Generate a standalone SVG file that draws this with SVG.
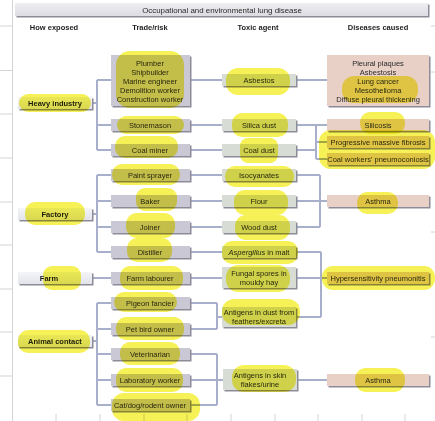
<svg xmlns="http://www.w3.org/2000/svg" width="435" height="421" viewBox="0 0 435 421">
<defs>
<linearGradient id="gExp" x1="0" y1="0" x2="0" y2="1"><stop offset="0" stop-color="#f4f5f8"/><stop offset="1" stop-color="#e2e4ea"/></linearGradient>
<linearGradient id="gTitle" x1="0" y1="0" x2="0" y2="1"><stop offset="0" stop-color="#eeeef2"/><stop offset="1" stop-color="#dcdce2"/></linearGradient>
</defs>
<style>
text{font-family:"Liberation Sans",Arial,sans-serif;font-size:7.5px;fill:#2a2a2a;text-anchor:middle}
.b{font-weight:bold;fill:#1e1e1e}
.t{font-size:7.9px}
.sh{fill:#8c8c98}
.exp{fill:url(#gExp)}
.trd{fill:#cbc8d6}
.tox{fill:#d7ddd4}
.dis{fill:#e8d0c7}
.conn path{fill:none;stroke:#a8afcb;stroke-width:2}
.grid line{stroke:#d4d4d8;stroke-width:1}
.hl rect{fill:#f3ee2c;opacity:0.8;mix-blend-mode:multiply}
</style>
<rect width="435" height="421" fill="#ffffff"/>
<g class="grid">
<line x1="12.5" y1="0" x2="12.5" y2="421"/>
<line x1="0" y1="26" x2="12" y2="26"/><line x1="0" y1="70.5" x2="12" y2="70.5"/><line x1="0" y1="114" x2="12" y2="114"/><line x1="0" y1="158" x2="12" y2="158"/><line x1="0" y1="202" x2="12" y2="202"/><line x1="0" y1="245" x2="12" y2="245"/><line x1="0" y1="289" x2="12" y2="289"/><line x1="0" y1="332" x2="12" y2="332"/><line x1="0" y1="376" x2="12" y2="376"/>
<line x1="431" y1="26" x2="435" y2="26"/><line x1="431" y1="72" x2="435" y2="72"/><line x1="431" y1="232" x2="435" y2="232"/><line x1="431" y1="337" x2="435" y2="337"/>
<line x1="56" y1="414" x2="56" y2="421"/><line x1="100" y1="414" x2="100" y2="421"/><line x1="144" y1="414" x2="144" y2="421"/><line x1="187" y1="414" x2="187" y2="421"/><line x1="231" y1="414" x2="231" y2="421"/><line x1="275" y1="414" x2="275" y2="421"/><line x1="318" y1="414" x2="318" y2="421"/><line x1="362" y1="414" x2="362" y2="421"/><line x1="405" y1="414" x2="405" y2="421"/>
</g>
<g id="title">
<rect class="sh" x="16.5" y="4.5" width="413" height="13"/>
<rect x="15" y="3" width="413" height="13" fill="url(#gTitle)"/>
<text class="t" x="222" y="12.7">Occupational and environmental lung disease</text>
</g>
<g id="headers">
<text class="b" x="54" y="29.5">How exposed</text>
<text class="b" x="150" y="29.5">Trade/risk</text>
<text class="b" x="258" y="29.5">Toxic agent</text>
<text class="b" x="378" y="29.5">Diseases caused</text>
</g>
<g class="conn">
<path d="M92,103H97M97,80V150M97,80H111M97,125H111M97,150H111"/>
<path d="M92,214H97M97,175V252M97,175H111M97,201H111M97,227H111M97,252H111"/>
<path d="M92,278H111"/>
<path d="M92,341H97M97,303V405M97,303H111M97,329H111M97,354H111M97,380H111M97,405H111"/>
<path d="M190,80H222M190,125H222M190,150H222M190,175H222M190,201H222M190,227H222M190,252H222M190,278H222"/>
<path d="M190,303H217M190,329H217M217,303V329M217,317H222"/>
<path d="M190,354H217M190,380H217M190,405H217M217,354V405M217,380H223"/>
<path d="M296,80H327M296,125H327M296,150H316M316,125V159M316,142H327M316,159H327"/>
<path d="M296,175H320M296,201H327M296,227H320M320,175V227"/>
<path d="M296,252H321M296,278H327M296,317H321M321,252V317"/>
<path d="M297,380H327"/>
</g>
<g id="exp-heavy"><rect class="sh" x="19.5" y="98.5" width="74" height="12"/><rect class="exp" x="18" y="97" width="74" height="12"/><text class="b" x="55" y="105.7">Heavy industry</text></g>
<g id="exp-factory"><rect class="sh" x="19.5" y="209.5" width="74" height="12"/><rect class="exp" x="18" y="208" width="74" height="12"/><text class="b" x="55" y="216.7">Factory</text></g>
<g id="exp-farm"><rect class="sh" x="19.5" y="273.5" width="74" height="12"/><rect class="exp" x="18" y="272" width="74" height="12"/><text class="b" x="49" y="280.7">Farm</text></g>
<g id="exp-animal"><rect class="sh" x="19.5" y="336.5" width="74" height="12"/><rect class="exp" x="18" y="335" width="74" height="12"/><text class="b" x="55" y="343.7">Animal contact</text></g>

<g id="trade-asbestos"><rect class="sh" x="112.5" y="56.5" width="79" height="51"/><rect class="trd" x="111" y="55" width="79" height="51"/>
<text x="150" y="65.7">Plumber</text><text x="150" y="74.7">Shipbuilder</text><text x="150" y="83.7">Marine engineer</text><text x="150" y="92.7">Demolition worker</text><text x="150" y="101.7">Construction worker</text></g>
<g id="trade-stonemason"><rect class="sh" x="112.5" y="120.5" width="79" height="12"/><rect class="trd" x="111" y="119" width="79" height="12"/><text x="150" y="127.7">Stonemason</text></g>
<g id="trade-coalminer"><rect class="sh" x="112.5" y="145.5" width="79" height="12"/><rect class="trd" x="111" y="144" width="79" height="12"/><text x="150" y="152.7">Coal miner</text></g>
<g id="trade-paint"><rect class="sh" x="112.5" y="170.5" width="79" height="12"/><rect class="trd" x="111" y="169" width="79" height="12"/><text x="150" y="177.7">Paint sprayer</text></g>
<g id="trade-baker"><rect class="sh" x="112.5" y="196.5" width="79" height="12"/><rect class="trd" x="111" y="195" width="79" height="12"/><text x="150" y="203.7">Baker</text></g>
<g id="trade-joiner"><rect class="sh" x="112.5" y="222.5" width="79" height="12"/><rect class="trd" x="111" y="221" width="79" height="12"/><text x="150" y="229.7">Joiner</text></g>
<g id="trade-distiller"><rect class="sh" x="112.5" y="247.5" width="79" height="12"/><rect class="trd" x="111" y="246" width="79" height="12"/><text x="150" y="254.7">Distiller</text></g>
<g id="trade-farmlab"><rect class="sh" x="112.5" y="273.5" width="79" height="12"/><rect class="trd" x="111" y="272" width="79" height="12"/><text x="150" y="280.7">Farm labourer</text></g>
<g id="trade-pigeon"><rect class="sh" x="112.5" y="298.5" width="79" height="12"/><rect class="trd" x="111" y="297" width="79" height="12"/><text x="150" y="305.7">Pigeon fancier</text></g>
<g id="trade-petbird"><rect class="sh" x="112.5" y="324.5" width="79" height="12"/><rect class="trd" x="111" y="323" width="79" height="12"/><text x="150" y="331.7">Pet bird owner</text></g>
<g id="trade-vet"><rect class="sh" x="112.5" y="349.5" width="79" height="12"/><rect class="trd" x="111" y="348" width="79" height="12"/><text x="150" y="356.7">Veterinarian</text></g>
<g id="trade-lab"><rect class="sh" x="112.5" y="375.5" width="79" height="12"/><rect class="trd" x="111" y="374" width="79" height="12"/><text x="150" y="382.7">Laboratory worker</text></g>
<g id="trade-pet"><rect class="sh" x="112.5" y="400.5" width="79" height="12"/><rect class="trd" x="111" y="399" width="79" height="12"/><text x="150" y="407.7">Cat/dog/rodent owner</text></g>

<g id="tox-asbestos"><rect class="sh" x="223.5" y="75.5" width="74" height="12"/><rect class="tox" x="222" y="74" width="74" height="12"/><text x="259" y="82.7">Asbestos</text></g>
<g id="tox-silica"><rect class="sh" x="223.5" y="120.5" width="74" height="12"/><rect class="tox" x="222" y="119" width="74" height="12"/><text x="259" y="127.7">Silica dust</text></g>
<g id="tox-coal"><rect class="sh" x="223.5" y="145.5" width="74" height="12"/><rect class="tox" x="222" y="144" width="74" height="12"/><text x="259" y="152.7">Coal dust</text></g>
<g id="tox-iso"><rect class="sh" x="223.5" y="170.5" width="74" height="12"/><rect class="tox" x="222" y="169" width="74" height="12"/><text x="259" y="177.7">Isocyanates</text></g>
<g id="tox-flour"><rect class="sh" x="223.5" y="196.5" width="74" height="12"/><rect class="tox" x="222" y="195" width="74" height="12"/><text x="259" y="203.7">Flour</text></g>
<g id="tox-wood"><rect class="sh" x="223.5" y="222.5" width="74" height="12"/><rect class="tox" x="222" y="221" width="74" height="12"/><text x="259" y="229.7">Wood dust</text></g>
<g id="tox-asperg"><rect class="sh" x="223.5" y="247.5" width="74" height="12"/><rect class="tox" x="222" y="246" width="74" height="12"/><text x="259" y="254.7"><tspan font-style="italic">Aspergillus</tspan> in malt</text></g>
<g id="tox-fungal"><rect class="sh" x="223.5" y="268.5" width="74" height="21"/><rect class="tox" x="222" y="267" width="74" height="21"/><text x="259" y="275.7">Fungal spores in</text><text x="259" y="284.5">mouldy hay</text></g>
<g id="tox-feathers"><rect class="sh" x="223.5" y="308.5" width="74" height="20"/><rect class="tox" x="222" y="307" width="74" height="20"/><text x="259" y="315.3">Antigens in dust from</text><text x="259" y="324.1">feathers/excreta</text></g>
<g id="tox-skin"><rect class="sh" x="224.5" y="370.5" width="74" height="21"/><rect class="tox" x="223" y="369" width="74" height="21"/><text x="260" y="377.7">Antigens in skin</text><text x="260" y="386.5">flakes/urine</text></g>

<g id="dis-asbestos"><rect class="sh" x="328.5" y="56.5" width="102" height="51"/><rect class="dis" x="327" y="55" width="102" height="51"/>
<text x="378" y="65.7">Pleural plaques</text><text x="378" y="74.7">Asbestosis</text><text x="378" y="83.7">Lung cancer</text><text x="378" y="92.7">Mesothelioma</text><text x="378" y="101.7">Diffuse pleural thickening</text></g>
<g id="dis-silicosis"><rect class="sh" x="328.5" y="120.5" width="102" height="12"/><rect class="dis" x="327" y="119" width="102" height="12"/><text x="378" y="127.7">Silicosis</text></g>
<g id="dis-pmf"><rect class="sh" x="328.5" y="137.5" width="102" height="12"/><rect class="dis" x="327" y="136" width="102" height="12"/><text x="378" y="144.7">Progressive massive fibrosis</text></g>
<g id="dis-cwp"><rect class="sh" x="328.5" y="154.5" width="102" height="12"/><rect class="dis" x="327" y="153" width="102" height="12"/><text x="378" y="161.7">Coal workers' pneumoconiosis</text></g>
<g id="dis-asthma1"><rect class="sh" x="328.5" y="196.5" width="102" height="12"/><rect class="dis" x="327" y="195" width="102" height="12"/><text x="378" y="203.7">Asthma</text></g>
<g id="dis-hp"><rect class="sh" x="328.5" y="273.5" width="102" height="12"/><rect class="dis" x="327" y="272" width="102" height="12"/><text x="378" y="280.7">Hypersensitivity pneumonitis</text></g>
<g id="dis-asthma2"><rect class="sh" x="328.5" y="375.5" width="102" height="12"/><rect class="dis" x="327" y="374" width="102" height="12"/><text x="378" y="382.7">Asthma</text></g>

<g class="hl">
<rect x="19" y="94" width="72" height="18" rx="9"/>
<rect x="25" y="202" width="60" height="23" rx="10"/>
<rect x="43" y="266" width="38" height="24" rx="9"/>
<rect x="18" y="330" width="72" height="23" rx="10"/>
<rect x="116" y="51" width="68" height="57" rx="14"/>
<rect x="117" y="116" width="67" height="18" rx="9"/>
<rect x="115" y="136" width="63" height="22" rx="10"/>
<rect x="112" y="164" width="68" height="21" rx="10"/>
<rect x="136" y="188" width="41" height="23" rx="9"/>
<rect x="126" y="213" width="49" height="25" rx="11"/>
<rect x="127" y="238" width="45" height="24" rx="10"/>
<rect x="120" y="266" width="63" height="24" rx="10"/>
<rect x="114" y="292" width="63" height="20" rx="10"/>
<rect x="116" y="317" width="68" height="23" rx="10"/>
<rect x="120" y="342" width="60" height="23" rx="10"/>
<rect x="116" y="368" width="67" height="24" rx="10"/>
<rect x="112" y="393" width="88" height="28" rx="12"/>
<rect x="226" y="68" width="64" height="27" rx="12"/>
<rect x="232" y="113" width="56" height="24" rx="10"/>
<rect x="240" y="138" width="38" height="25" rx="8"/>
<rect x="225" y="166" width="69" height="21" rx="10"/>
<rect x="234" y="190" width="54" height="25" rx="11"/>
<rect x="235" y="215" width="55" height="25" rx="11"/>
<rect x="222" y="241" width="76" height="23" rx="10"/>
<rect x="226" y="265" width="64" height="27" rx="12"/>
<rect x="222" y="299" width="78" height="26" rx="12"/>
<rect x="232" y="365" width="64" height="27" rx="12"/>
<rect x="342" y="76" width="76" height="27" rx="12"/>
<rect x="360" y="112" width="45" height="22" rx="10"/>
<rect x="319" y="130" width="116" height="39" rx="12"/>
<rect x="357" y="192" width="41" height="22" rx="10"/>
<rect x="322" y="266" width="113" height="24" rx="11"/>
<rect x="355" y="368" width="50" height="24" rx="11"/>
</g>
</svg>
